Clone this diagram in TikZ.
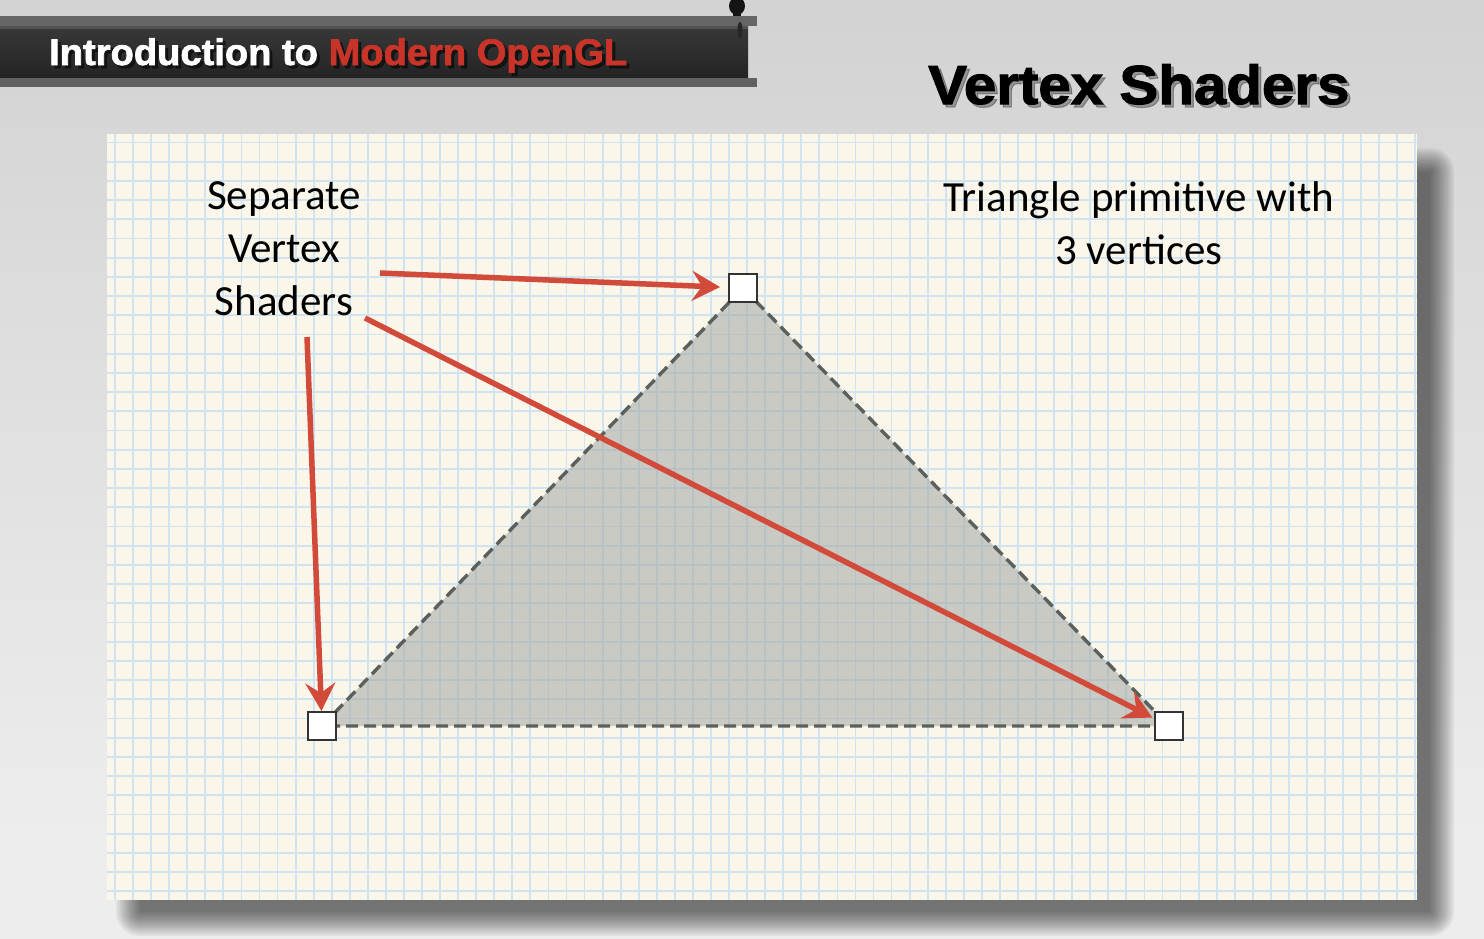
\documentclass[tikz,border=0pt]{standalone}
\usepackage{fontspec}
\setmainfont{Carlito}
\newfontfamily\heavyfont{Liberation Sans}[UprightFont={* Bold},FakeBold=1.8]
\usetikzlibrary{arrows.meta}

\definecolor{bgtop}{HTML}{C2C2C2}
\definecolor{bgmid}{HTML}{DCDCDC}
\definecolor{bglow}{HTML}{EDEDED}
\definecolor{bgbot}{HTML}{C8C8C8}
\definecolor{paper}{HTML}{FAF6EA}
\definecolor{gridblue}{HTML}{CFE3F1}
\definecolor{arrowred}{RGB}{210,74,58}
\definecolor{titlered}{RGB}{200,52,40}
\definecolor{edgegrey}{HTML}{5C605C}
\definecolor{trifill}{HTML}{A9ADA9}

\pgfdeclareverticalshading{backdrop}{100bp}{%
  color(0bp)=(bgbot); color(6bp)=(bgbot!70!bglow); color(20bp)=(bglow);
  color(30bp)=(bglow); color(60bp)=(bgmid); color(100bp)=(bgtop)}

\tikzset{
  vtx/.style={draw=black!80, line width=1.4pt, fill=white, minimum size=28pt,
              inner sep=0pt, outer sep=0pt},
  pointer/.style={draw=arrowred, line width=5.5pt,
                  -{Stealth[length=28pt,width=30pt,inset=10pt]}},
  dashedge/.style={draw=edgegrey, line width=3.4pt, dash pattern=on 12pt off 6pt},
  note/.style={font=\fontsize{43}{53}\selectfont, align=center, inner sep=0pt},
  heavy/.style={inner sep=0pt, anchor=base west},
  gridline/.style={gridblue, line width=1.8pt},
}

\begin{document}
\begin{tikzpicture}[x=1pt,y=-1pt]
\useasboundingbox (0,0) rectangle (1484,938);

% backdrop
\shade[shading=backdrop] (0,0) rectangle (1484,938);

% title girder and its hook
\fill[black!92] (737,6) ellipse (8 and 9);
\fill[black!92] (733,8) rectangle (741,19);
\fill[black!60] (0,16) rectangle (757,26);
\shade[top color=black!78, bottom color=black!86] (0,26) rectangle (748,78);
\fill[black!68] (0,26) rectangle (748,29);
\fill[black!62] (0,78) rectangle (757,87);
\fill[black!85] (740,30) ellipse (2.5 and 8);

\node[heavy, text=black, opacity=0.5] at (52,68)
  {\fontsize{37}{37}\heavyfont\scalebox{1.03}[1]{Introduction to Modern OpenGL}};
\node[heavy] (title) at (49,65)
  {\fontsize{37}{37}\heavyfont\scalebox{1.03}[1]{\textcolor{white}{Introduction to }\textcolor{titlered}{Modern OpenGL}}};

% slide heading
\node[heavy, text=black, opacity=0.3] at (931,107)
  {\fontsize{55}{55}\heavyfont\scalebox{1.06}[1]{Vertex Shaders}};
\node[heavy] (heading) at (928,104)
  {\fontsize{55}{55}\heavyfont\scalebox{1.06}[1]{Vertex Shaders}};

% soft drop shadow of the sheet
\foreach \e in {0,2,...,24}
  \fill[black, opacity=0.05, rounded corners=\e pt]
    (140-\e,172-\e) rectangle (1430+\e,912+\e);

% graph-paper sheet
\fill[paper] (107,134) rectangle (1417,900);
\begin{scope}
  \clip (107,134) rectangle (1417,900);
  \foreach \k in {0,...,72}
    \draw[gridline] ({115+18.06*\k},134) -- ({115+18.06*\k},900);
  \foreach \k in {-1,...,40}
    \draw[gridline] (107,{392+19.2*(\k-13)}) -- (1417,{392+19.2*(\k-13)});
\end{scope}

% triangle primitive
\coordinate (vt) at (743,288);
\coordinate (vl) at (322,726);
\coordinate (vr) at (1169,726);
\fill[trifill, opacity=0.6] (vt) -- (vr) -- (vl) -- cycle;
\draw[dashedge] (vt) -- (vr) -- (vl) -- cycle;

% labels
\node[note] (lbl) at (284,249) {Separate\\Vertex\\Shaders};
\node[note] (tri) at (1139,223) {Triangle primitive with\\3 vertices};

% vertices
\node[vtx] (top) at (vt) {};
\node[vtx] (left) at (vl) {};
\node[vtx] (right) at (vr) {};

% arrows from the label to each vertex
\coordinate (s1) at (380,273);
\coordinate (s2) at (365,318);
\coordinate (s3) at (307,337);
\draw[pointer, shorten >=9pt] (s1) -- (top);
\draw[pointer, shorten >=3pt] (s2) -- (right);
\draw[pointer, shorten >=1pt] (s3) -- (left);
\end{tikzpicture}
\end{document}
